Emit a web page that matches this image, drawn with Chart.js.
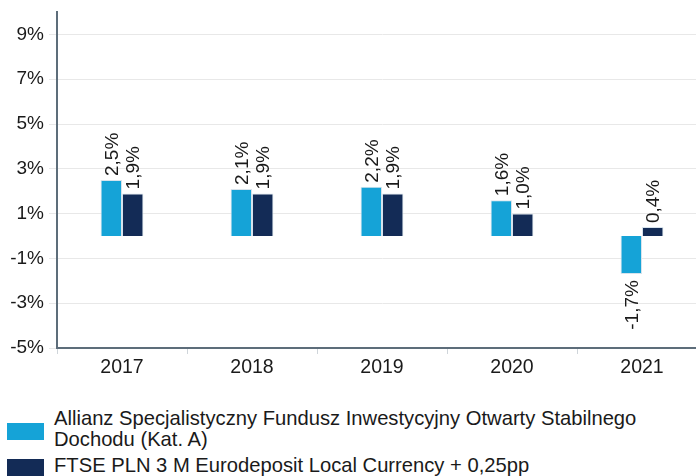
<!DOCTYPE html>
<html>
<head>
<meta charset="utf-8">
<script src="https://cdn.jsdelivr.net/npm/chart.js@4"></script>
<style>
  html, body { margin: 0; padding: 0; background: #fff; overflow: hidden; }
  body { width: 696px; height: 476px; position: relative; font-family: "Liberation Sans", Arial, sans-serif; }
  #wrap { position: absolute; left: 0; top: 0; width: 707px; height: 392px; }
  .box { position: absolute; left: 7px; width: 37px; height: 17px; }
  .txt { position: absolute; left: 54px; width: 600px; color: #1a1a1a; font-size: 20.2px; line-height: 21px; }
</style>
</head>
<body>
<div id="wrap"><canvas id="wykres"></canvas></div>
<div id="legend"></div>
<script>
  // Dane z wykresu
  const lata = ['2017', '2018', '2019', '2020', '2021'];
  const fundusz = [2.5, 2.1, 2.2, 1.6, -1.7];
  const benchmark = [1.9, 1.9, 1.9, 1.0, 0.4];
  const nazwy = [
    'Allianz Specjalistyczny Fundusz Inwestycyjny Otwarty Stabilnego Dochodu (Kat. A)',
    'FTSE PLN 3 M Eurodeposit Local Currency + 0,25pp'
  ];
  const kolory = ['#15a3d7', '#132b56'];
  const yTicks = [-5, -3, -1, 1, 3, 5, 7, 9];

  const czcionka = '"Liberation Sans", Arial, sans-serif';
  const fmt = v => v.toFixed(1).replace('.', ',') + '%';

  // etykiety wartosci obrocone o 90 stopni
  const etykiety = {
    id: 'etykiety',
    afterDatasetsDraw(chart) {
      const ctx = chart.ctx;
      ctx.save();
      ctx.font = '19px ' + czcionka;
      ctx.fillStyle = '#1a1a1a';
      ctx.textBaseline = 'middle';
      chart.data.datasets.forEach((ds, i) => {
        chart.getDatasetMeta(i).data.forEach((bar, j) => {
          const v = ds.data[j];
          ctx.save();
          if (v >= 0) {
            ctx.translate(bar.x, bar.y - 4);
            ctx.rotate(-Math.PI / 2);
            ctx.textAlign = 'left';
          } else {
            ctx.translate(bar.x, bar.y + 6);
            ctx.rotate(-Math.PI / 2);
            ctx.textAlign = 'right';
          }
          ctx.fillText(fmt(v), 0, 1);
          ctx.restore();
        });
      });
      ctx.restore();
    }
  };

  const ctx = document.getElementById('wykres').getContext('2d');
  const wykres = new Chart(ctx, {
    type: 'bar',
    data: {
      labels: lata,
      datasets: [
        { label: nazwy[0], data: fundusz, backgroundColor: kolory[0], borderColor: '#d7e3ec', borderWidth: 1 },
        { label: nazwy[1], data: benchmark, backgroundColor: kolory[1], borderColor: '#d7e3ec', borderWidth: 1 }
      ]
    },
    options: {
      responsive: true,
      maintainAspectRatio: false,
      animation: false,
      layout: { padding: { top: 12, right: 0, left: 0, bottom: 0 } },
      datasets: { bar: { categoryPercentage: 0.33, barPercentage: 1 } },
      plugins: { legend: { display: false }, tooltip: { enabled: false } },
      scales: {
        x: {
          grid: { drawOnChartArea: false, color: '#cfd5da', tickLength: 6, offset: true },
          border: { color: '#5d6d7a', width: 2 },
          ticks: { color: '#1a1a1a', padding: 2, font: { size: 19.5, family: czcionka } },
          afterFit: s => { s.height = 44; s.paddingLeft = 0; s.paddingRight = 0; }
        },
        y: {
          min: -5,
          max: 10,
          afterBuildTicks: s => { s.ticks = yTicks.map(v => ({ value: v })); },
          afterFit: s => { s.width = 57; s.paddingTop = 0; s.paddingBottom = 0; },
          grid: { color: '#e8e8e8', tickLength: 8 },
          border: { color: '#5d6d7a', width: 2 },
          ticks: {
            color: '#1a1a1a', padding: 5,
            font: { size: 19, family: czcionka },
            callback: v => v + '%'
          }
        }
      }
    },
    plugins: [etykiety]
  });

  // legenda pod wykresem
  const leg = document.getElementById('legend');
  const boxTop = [423, 459];
  const txtTop = [408, 455];
  nazwy.forEach((n, i) => {
    leg.insertAdjacentHTML('beforeend',
      '<div class="box" style="top:' + boxTop[i] + 'px;background:' + kolory[i] + '"></div>' +
      '<div class="txt" style="top:' + txtTop[i] + 'px">' + n + '</div>');
  });
</script>
</body>
</html>
